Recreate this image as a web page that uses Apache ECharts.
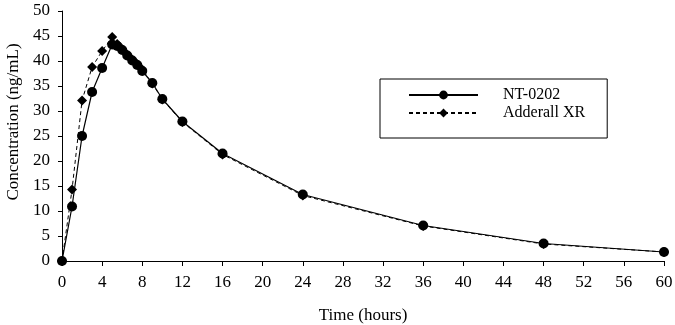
<!DOCTYPE html>
<html><head><meta charset="utf-8">
<script src="https://cdn.jsdelivr.net/npm/echarts@6/dist/echarts.min.js"></script>
<style>html,body{margin:0;padding:0;background:#fff}#c{width:675px;height:325px}</style>
</head><body><div id="c"></div>
<script>
const ntTimes = [0, 1, 2, 3, 4, 5, 5.5, 6, 6.5, 7, 7.5, 8, 9, 10, 12, 16, 24, 36, 48, 60];
const ntValues = [0, 10.9, 25.0, 33.8, 38.6, 43.3, 43.0, 42.2, 41.1, 40.1, 39.2, 38.0, 35.6, 32.4, 27.9, 21.5, 13.3, 7.1, 3.5, 1.8];
const axrTimes = [0, 1, 2, 3, 4, 5, 5.5, 6, 6.5, 7, 7.5, 8, 9, 10, 12, 16, 24, 36, 48, 60];
const axrValues = [0, 14.3, 32.1, 38.8, 42.0, 44.8, 43.4, 42.4, 41.3, 40.3, 39.4, 38.3, 35.5, 32.3, 27.8, 21.3, 13.1, 7.0, 3.4, 1.8];
const xTicks = [0,4,8,12,16,20,24,28,32,36,40,44,48,52,56,60];
const yTicks = [0,5,10,15,20,25,30,35,40,45,50];
const font = "'Liberation Serif', 'Times New Roman', serif";
const chart = echarts.init(document.getElementById('c'));
chart.setOption({
  animation: false,
  textStyle: {fontFamily: font},
  grid: {left: 62, right: 11, top: 11, bottom: 64, containLabel: false, outerBoundsMode: 'none'},
  legend: {
    orient: 'vertical', left: 380, top: 79,
    padding: [8, 22, 17, 28], itemGap: 2,
    borderColor: '#000', borderWidth: 1,
    itemWidth: 69, itemHeight: 11,
    textStyle: {fontFamily: font, fontSize: 16, color: '#000', lineHeight: 11, padding: [0,0,0,20]},
    data: ['NT-0202', 'Adderall XR']
  },
  xAxis: {
    type: 'value', min: 0, max: 60, interval: 4,
    name: 'Time (hours)', nameLocation: 'middle', nameGap: 46,
    nameTextStyle: {fontFamily: font, fontSize: 17, color: '#000'},
    axisLine: {lineStyle: {color: '#000'}},
    axisTick: {show: true, length: 5, lineStyle: {color: '#000'}},
    axisLabel: {fontFamily: font, fontSize: 17, color: '#000', margin: 13,
      formatter: v => xTicks.includes(v) ? String(v) : ''},
    splitLine: {show: false}
  },
  yAxis: {
    type: 'value', min: 0, max: 50, interval: 5,
    name: 'Concentration (ng/mL)', nameLocation: 'middle', nameGap: 40,
    nameTextStyle: {fontFamily: font, fontSize: 17, color: '#000', padding: [0,0,0,28]},
    axisLine: {show: true, lineStyle: {color: '#000'}},
    axisTick: {show: true, length: 4, lineStyle: {color: '#000'}},
    axisLabel: {fontFamily: font, fontSize: 17, color: '#000', margin: 12,
      formatter: v => yTicks.includes(v) ? String(v) : ''},
    splitLine: {show: false}
  },
  series: [
    {
      name: 'Adderall XR', type: 'line', z: 2,
      data: axrTimes.map((t, i) => [t, axrValues[i]]),
      symbol: 'diamond', symbolSize: 10,
      itemStyle: {color: '#000'},
      lineStyle: {color: '#000', width: 1, type: [4, 3]}
    },
    {
      name: 'NT-0202', type: 'line', z: 3,
      data: ntTimes.map((t, i) => [t, ntValues[i]]),
      symbol: 'circle', symbolSize: 10,
      itemStyle: {color: '#000'},
      lineStyle: {color: '#000', width: 1.2}
    }
  ]
});
</script></body></html>
